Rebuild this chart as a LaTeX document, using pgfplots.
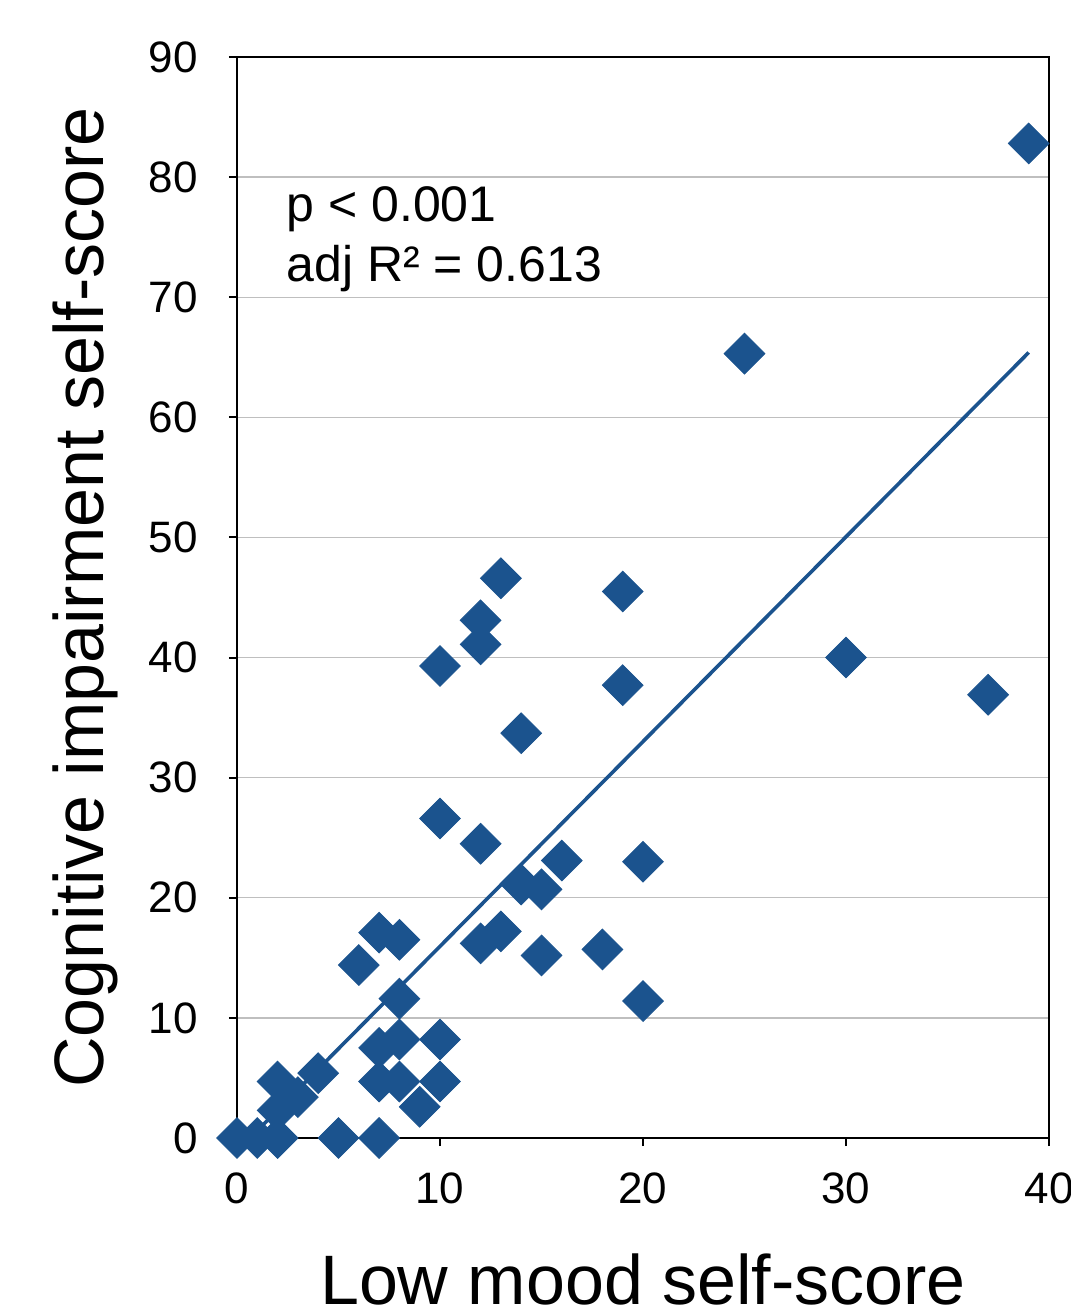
\documentclass[border=0pt]{standalone}
\usepackage{fontspec}
\setmainfont{Liberation Sans}
\usepackage{pgfplots}
\pgfplotsset{compat=1.18}
\definecolor{mk}{RGB}{27,83,142}
\begin{document}
\begin{tikzpicture}
\useasboundingbox (-118.5pt,-89pt) rectangle (416.5pt,569pt);
\begin{axis}[
  at={(0pt,0pt)}, anchor=south west,
  scale only axis, width=406pt, height=540.5pt,
  xmin=0, xmax=40, ymin=0, ymax=90,
  xtick={0,10,...,40}, ytick={0,10,...,90},
  tick align=outside, tick pos=left,
  major tick length=4pt,
  ymajorgrids,
  grid style={gray!50, line width=0.7pt},
  axis line style={line width=1pt},
  every tick/.style={black, line width=1pt},
  tick label style={font=\fontsize{22}{26}\selectfont},
  /pgf/number format/assume math mode=true,
  xticklabel style={yshift=-10pt},
  yticklabel style={xshift=-12pt},
  xlabel={Low mood self-score},
  xlabel style={at={(axis description cs:0.5,0)}, anchor=base, yshift=-83pt, font=\fontsize{35}{40}\selectfont},
  ylabel={Cognitive impairment self-score},
  ylabel style={at={(axis description cs:-0.165,0.5)}, anchor=base, font=\fontsize{35}{40}\selectfont},
  clip=false,
]
\addplot[mk, line width=1.8pt] coordinates {(0.64,0) (39,65.4)};
\addplot[only marks, mark=square*, mark size=7.2pt, mark options={rotate=45, fill=mk, draw=mk}] coordinates {
(39,82.8) (25,65.3) (30,40.0) (37,36.9) (19,45.5) (19,37.7) (13,46.6) (12,43.1) (12,41.1) (10,39.3)
(14,33.7) (10,26.6) (12,24.5) (16,23.1) (20,23.0) (14,21.1) (15,20.7) (13,17.2) (12,16.2) (15,15.2)
(18,15.7) (20,11.4) (7,17.1) (8,16.5) (6,14.4) (8,11.6) (7,7.5) (8,8.2) (10,8.2) (7,4.7)
(8,4.7) (10,4.7) (9,2.6) (4,5.4) (2,4.7) (3,3.4) (2,2.3) (0,0) (1,0) (2,0) (5,0) (7,0)
};
\node[anchor=base west, font=\fontsize{25}{30}\selectfont] at (axis cs:2.1,76.3) {p < 0.001};
\node[anchor=base west, font=\fontsize{25}{30}\selectfont] at (axis cs:2.1,71.3) {adj R² = 0.613};
\end{axis}
\end{tikzpicture}
\end{document}
